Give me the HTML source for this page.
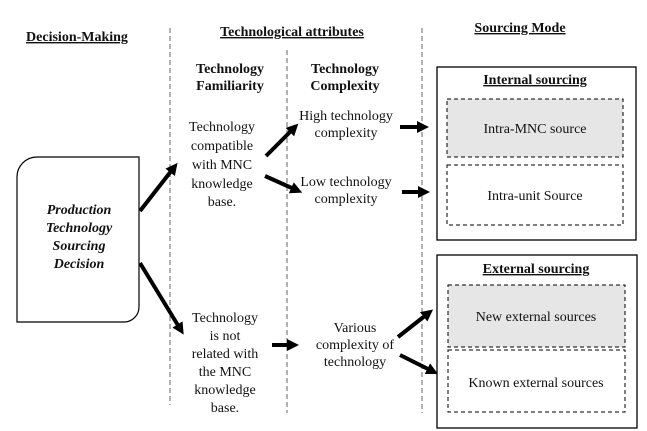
<!DOCTYPE html>
<html><head><meta charset="utf-8"><style>
html,body{margin:0;padding:0;background:#fff;width:647px;height:431px;overflow:hidden}
text{font-family:"Liberation Serif",serif;font-size:14px;fill:#111}
.b{font-weight:bold}
.u{text-decoration:underline}
</style></head><body>
<svg width="647" height="431" viewBox="0 0 647 431" xmlns="http://www.w3.org/2000/svg">
<defs><marker id="a" markerWidth="12" markerHeight="12" refX="3" refY="6" orient="auto" markerUnits="userSpaceOnUse"><path d="M0,0 L12,6 L0,12 z" fill="#000"/></marker></defs>
<g stroke="#666" stroke-width="1" stroke-dasharray="5,3" fill="none">
<line x1="170" y1="28" x2="170" y2="405"/>
<line x1="287" y1="50" x2="287" y2="413"/>
<line x1="422" y1="28" x2="422" y2="413"/>
</g>
<text x="77" y="41" text-anchor="middle" class="b u">Decision-Making</text>
<text x="292" y="36" text-anchor="middle" class="b u">Technological attributes</text>
<text x="520" y="32" text-anchor="middle" class="b u">Sourcing Mode</text>
<text x="230" y="73" text-anchor="middle" class="b">Technology</text>
<text x="230" y="90" text-anchor="middle" class="b">Familiarity</text>
<text x="345" y="73" text-anchor="middle" class="b">Technology</text>
<text x="345" y="90" text-anchor="middle" class="b">Complexity</text>
<path d="M37,157 H139 V307 A15,15 0 0 1 124,322 H17 V177 A20,20 0 0 1 37,157 Z" fill="#fff" stroke="#000" stroke-width="1.2"/>
<text x="79" y="214" font-style="italic" font-weight="bold" text-anchor="middle">Production</text>
<text x="79" y="232" font-style="italic" font-weight="bold" text-anchor="middle">Technology</text>
<text x="79" y="250" font-style="italic" font-weight="bold" text-anchor="middle">Sourcing</text>
<text x="79" y="268" font-style="italic" font-weight="bold" text-anchor="middle">Decision</text>
<text x="222" y="131" text-anchor="middle">Technology</text>
<text x="222" y="150" text-anchor="middle">compatible</text>
<text x="222" y="169" text-anchor="middle">with MNC</text>
<text x="222" y="188" text-anchor="middle">knowledge</text>
<text x="222" y="206" text-anchor="middle">base.</text>
<text x="225" y="322" text-anchor="middle">Technology</text>
<text x="225" y="340" text-anchor="middle">is not</text>
<text x="225" y="358" text-anchor="middle">related with</text>
<text x="225" y="376" text-anchor="middle">the MNC</text>
<text x="225" y="394" text-anchor="middle">knowledge</text>
<text x="225" y="412" text-anchor="middle">base.</text>
<text x="346" y="120" text-anchor="middle">High technology</text>
<text x="346" y="137" text-anchor="middle">complexity</text>
<text x="346" y="186" text-anchor="middle">Low technology</text>
<text x="346" y="203" text-anchor="middle">complexity</text>
<text x="355" y="332" text-anchor="middle">Various</text>
<text x="355" y="349" text-anchor="middle">complexity of</text>
<text x="355" y="366" text-anchor="middle">technology</text>
<g stroke="#000" stroke-width="4" marker-end="url(#a)">
<line x1="140" y1="211" x2="172" y2="170"/>
<line x1="140" y1="263" x2="179" y2="327"/>
<line x1="266" y1="156" x2="292" y2="130"/>
<line x1="265" y1="176" x2="294" y2="189"/>
<line x1="400" y1="127" x2="420" y2="127"/>
<line x1="402" y1="192" x2="421" y2="192"/>
<line x1="272" y1="345" x2="290" y2="345"/>
<line x1="398" y1="337" x2="426" y2="315"/>
<line x1="400" y1="355" x2="430" y2="370"/>
</g>
<rect x="437" y="67" width="199" height="173" fill="#fff" stroke="#000" stroke-width="1.3"/>
<text x="535" y="84" text-anchor="middle" class="b u">Internal sourcing</text>
<rect x="447" y="99" width="176" height="58" fill="#e6e6e6" stroke="#000" stroke-dasharray="4,3"/>
<text x="535" y="133" text-anchor="middle">Intra-MNC source</text>
<rect x="447" y="165" width="176" height="60" fill="#fff" stroke="#000" stroke-dasharray="4,3"/>
<text x="535" y="200" text-anchor="middle">Intra-unit Source</text>
<rect x="437" y="255" width="200" height="173" fill="#fff" stroke="#000" stroke-width="1.3"/>
<text x="536" y="273" text-anchor="middle" class="b u">External sourcing</text>
<rect x="448" y="285" width="177" height="62" fill="#e6e6e6" stroke="#000" stroke-dasharray="4,3"/>
<text x="536" y="321" text-anchor="middle">New external sources</text>
<rect x="448" y="350" width="177" height="62" fill="#fff" stroke="#000" stroke-dasharray="4,3"/>
<text x="536" y="387" text-anchor="middle">Known external sources</text>
</svg>
</body></html>
